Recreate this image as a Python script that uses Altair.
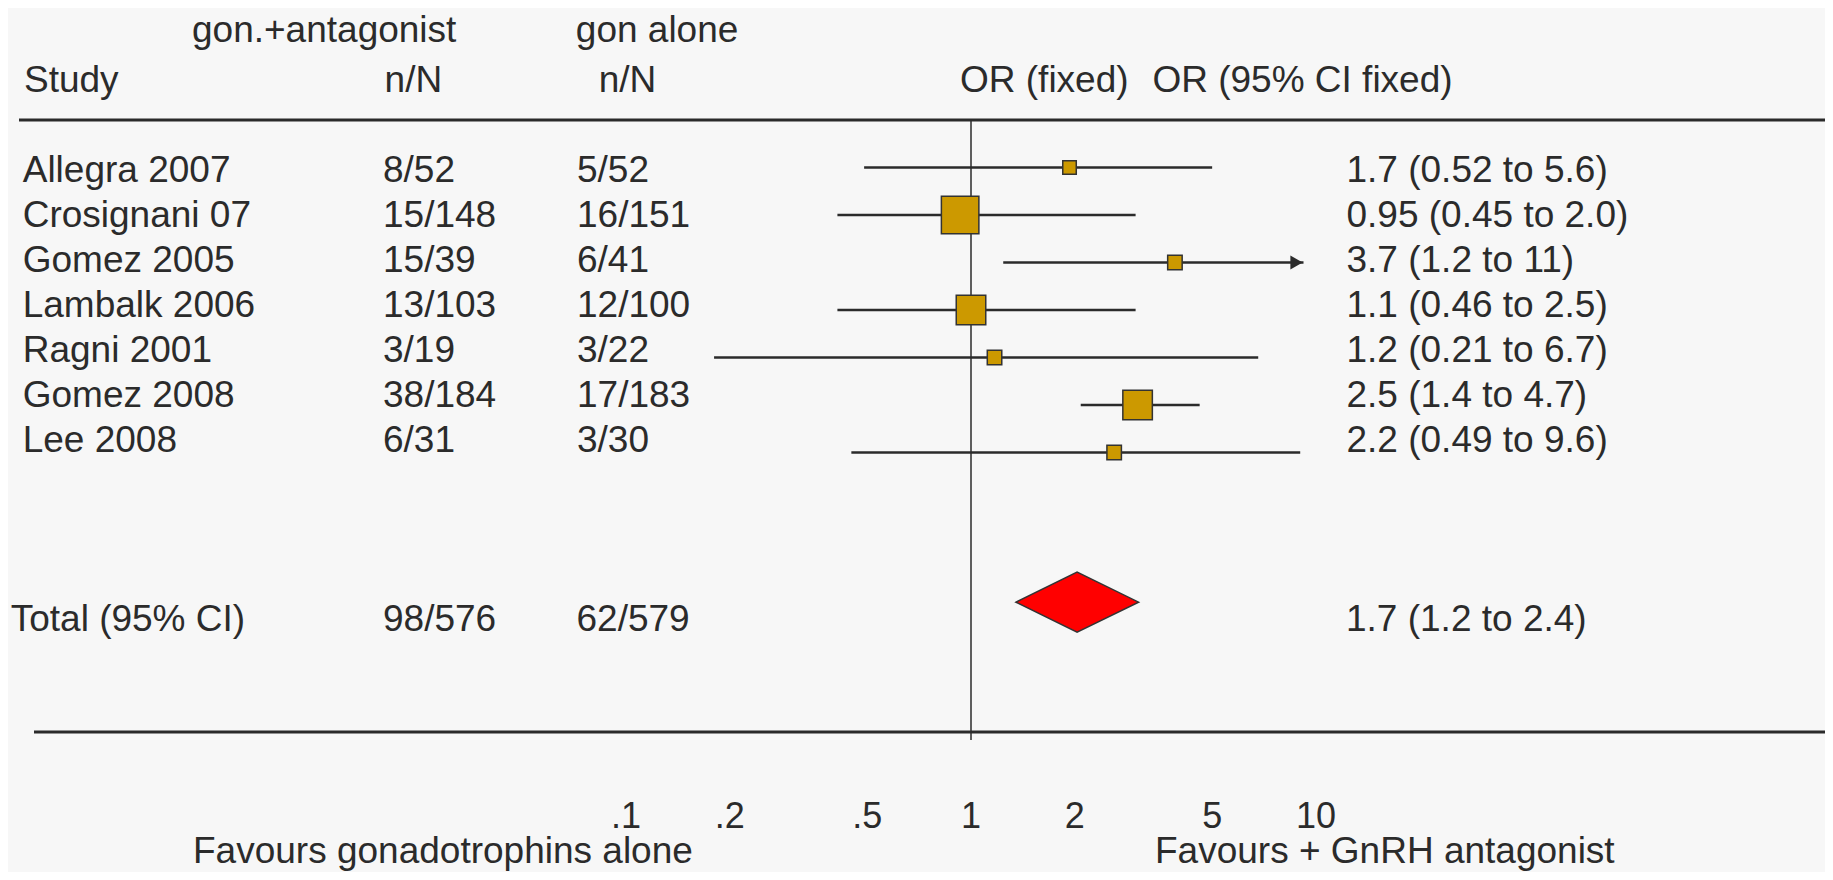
import altair as alt
import pandas as pd

# ---------------- data ----------------
STUDIES = ["Allegra 2007", "Crosignani 07", "Gomez 2005", "Lambalk 2006",
           "Ragni 2001", "Gomez 2008", "Lee 2008"]
TREAT = ["8/52", "15/148", "15/39", "13/103", "3/19", "38/184", "6/31"]
CTRL = ["5/52", "16/151", "6/41", "12/100", "3/22", "17/183", "3/30"]
OR_TEXT = ["1.7 (0.52 to 5.6)", "0.95 (0.45 to 2.0)", "3.7 (1.2 to 11)",
           "1.1 (0.46 to 2.5)", "1.2 (0.21 to 6.7)", "2.5 (1.4 to 4.7)",
           "2.2 (0.49 to 9.6)"]
# plotted positions (log OR scale)
OR_POINT = [1.93, 0.93, 3.9, 1.0, 1.17, 3.04, 2.6]
CI_LOW = [0.49, 0.41, 1.24, 0.41, 0.18, 2.08, 0.45]
CI_HIGH = [5.0, 3.0, 9.2, 3.0, 6.8, 4.6, 9.0]
WEIGHT = [4.6, 35.5, 5.3, 22.0, 5.3, 22.0, 5.3]

TOTAL_LABEL = "Total (95% CI)"
TOTAL_TREAT = "98/576"
TOTAL_CTRL = "62/579"
TOTAL_TEXT = "1.7 (1.2 to 2.4)"
TOTAL_OR = 2.03
TOTAL_LO = 1.35
TOTAL_HI = 3.06

TICK_VALUES = [0.1, 0.2, 0.5, 1, 2, 5, 10]
TICK_LABELS = [".1", ".2", ".5", "1", "2", "5", "10"]

HEAD_GROUP = ["gon.+antagonist", "gon alone"]
HEAD_COLS = ["Study", "n/N", "n/N", "OR (fixed)", "OR (95% CI fixed)"]
FAVOURS = ["Favours gonadotrophins alone", "Favours + GnRH antagonist"]

# ---------------- styling / layout ----------------
FONT = "Liberation Sans"
TXT = "#2b2b2b"
FS = 37
BG = "#f7f7f7"
W, H = 1817, 864
TOTAL_ROW = 10.15
DIAMOND_HALF = 0.63

xscale = alt.Scale(type="log", domain=[0.1, 10], range=[618, 1308], nice=False)
# scale for the plotted marks and one for the text rows
mscale = alt.Scale(domain=[1, 11], range=[159.5, 634.5], nice=False, zero=False)
tscale = alt.Scale(domain=[1, 11], range=[174.3, 624.3], nice=False, zero=False)

df = pd.DataFrame({
    "study": STUDIES, "treat": TREAT, "ctrl": CTRL, "ortext": OR_TEXT,
    "pt": OR_POINT, "lo": CI_LOW, "hi": CI_HIGH, "w": WEIGHT,
    "row": list(range(1, len(STUDIES) + 1)),
})
df["arrow"] = [float(s.split(" to ")[1].rstrip(")")) > 10 for s in OR_TEXT]

base = alt.Chart(df)
YM = alt.Y("row:Q", scale=mscale, axis=None)
YT = alt.Y("row:Q", scale=tscale, axis=None)


def X(field):
    return alt.X(field, scale=xscale, axis=None)


ci = base.mark_rule(color=TXT, strokeWidth=2.5).encode(x=X("lo:Q"), x2="hi:Q", y=YM)
arrows = base.transform_filter("datum.arrow").mark_point(
    shape="triangle-right", filled=True, color=TXT, opacity=1, size=200, xOffset=-7
).encode(x=X("hi:Q"), y=YM)
squares = base.mark_point(
    shape="square", filled=True, fill="#CC9900", stroke="#333333",
    strokeWidth=1.5, opacity=1
).encode(
    x=X("pt:Q"), y=YM,
    size=alt.Size("w:Q", scale=alt.Scale(domain=[0, 100], range=[0, 3960]), legend=None),
)

diamond_df = pd.DataFrame({
    "x": [TOTAL_LO, TOTAL_OR, TOTAL_HI],
    "y": [TOTAL_ROW, TOTAL_ROW - DIAMOND_HALF, TOTAL_ROW],
    "y2": [TOTAL_ROW, TOTAL_ROW + DIAMOND_HALF, TOTAL_ROW],
})
diamond = alt.Chart(diamond_df).mark_area(
    fill="#FF0000", stroke="#333333", strokeWidth=1.5, opacity=1, interpolate="linear"
).encode(x=X("x:Q"), y=alt.Y("y:Q", scale=mscale, axis=None), y2="y2:Q")

one = pd.DataFrame({"v": [1]})
vline = alt.Chart(one).mark_rule(color=TXT, strokeWidth=1.5).encode(
    x=X("v:Q"), y=alt.value(112), y2=alt.value(732))
top_rule = alt.Chart(one).mark_rule(color=TXT, strokeWidth=3).encode(
    x=alt.value(11), x2=alt.value(W), y=alt.value(112))
bottom_rule = alt.Chart(one).mark_rule(color=TXT, strokeWidth=3).encode(
    x=alt.value(26), x2=alt.value(W), y=alt.value(724))


def label(text, x, y, size=FS, align="left"):
    return alt.Chart(pd.DataFrame({"t": [text]})).mark_text(
        align=align, baseline="alphabetic", font=FONT, fontSize=size, color=TXT
    ).encode(x=alt.value(x), y=alt.value(y), text="t:N")


def col(field, x):
    return base.mark_text(
        align="left", baseline="alphabetic", font=FONT, fontSize=FS, color=TXT
    ).encode(x=alt.value(x), y=YT, text=f"{field}:N")


tot = pd.DataFrame({"row": [TOTAL_ROW], "a": [TOTAL_LABEL], "b": [TOTAL_TREAT],
                    "c": [TOTAL_CTRL], "d": [TOTAL_TEXT]})


def tcol(field, x):
    return alt.Chart(tot).mark_text(
        align="left", baseline="alphabetic", font=FONT, fontSize=FS, color=TXT, dy=36.5
    ).encode(x=alt.value(x), y=alt.Y("row:Q", scale=tscale, axis=None), text=f"{field}:N")


ticks = alt.Chart(pd.DataFrame({"v": TICK_VALUES, "lab": TICK_LABELS})).mark_text(
    align="center", baseline="alphabetic", font=FONT, fontSize=36, color=TXT
).encode(x=X("v:Q"), y=alt.value(819.5), text="lab:N")

layers = [
    top_rule, bottom_rule, vline, ci, arrows, squares, diamond,
    col("study", 14.7), col("treat", 375), col("ctrl", 569), col("ortext", 1338.5),
    tcol("a", 2.7), tcol("b", 375), tcol("c", 568.5), tcol("d", 1338),
    label(HEAD_GROUP[0], 184, 33.7), label(HEAD_GROUP[1], 567.8, 33.7),
    label(HEAD_COLS[0], 16, 83.7), label(HEAD_COLS[1], 376.6, 83.7),
    label(HEAD_COLS[2], 590.7, 83.7), label(HEAD_COLS[3], 952, 83.7),
    label(HEAD_COLS[4], 1144.4, 83.7),
    ticks,
    label(FAVOURS[0], 185, 855), label(FAVOURS[1], 1147, 855),
]

chart = alt.layer(*layers).resolve_scale(y="independent").properties(
    width=W, height=H,
    autosize=alt.AutoSizeParams(type="fit", contains="padding"),
    padding=0, background=BG,
).configure_view(stroke=None)

chart.save("out.html", embed_options={"renderer": "svg", "actions": False})
